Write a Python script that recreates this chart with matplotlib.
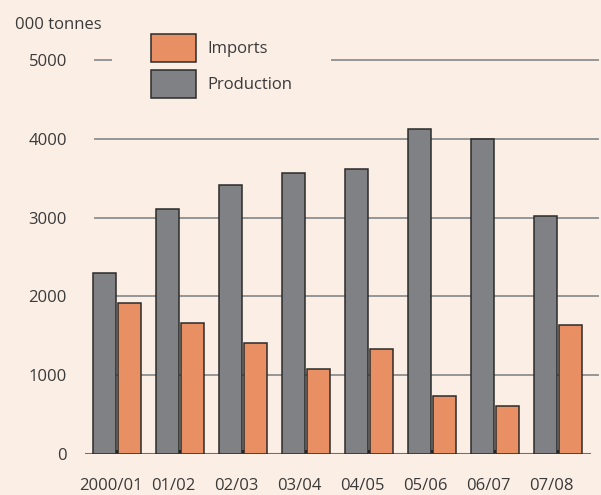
import matplotlib.pyplot as plt
import matplotlib.patches as mpatches
import numpy as np

plt.rcParams['font.family'] = ['Open Sans', 'DejaVu Sans']

seasons = ['2000/01', '01/02', '02/03', '03/04', '04/05', '05/06', '06/07', '07/08']
production = [2300, 3110, 3410, 3570, 3620, 4120, 4000, 3020]
imports = [1920, 1660, 1410, 1080, 1330, 740, 610, 1640]
yticks = [0, 1000, 2000, 3000, 4000, 5000]

bg = '#fbeee5'
c_imp = '#e89064'
c_prod = '#808184'
edge = '#2b2b2b'
txt = '#3a3a3a'
fs = 12

fig = plt.figure(figsize=(6.01, 4.95), dpi=100, facecolor=bg)
ax = fig.add_axes([85 / 601, 41 / 495, 513 / 601, 394 / 495], facecolor=bg)

x = np.arange(len(seasons))
w = 0.36
ax.bar(x - 0.2, production, w, color=c_prod, edgecolor=edge, linewidth=1.1, zorder=3)
ax.bar(x + 0.2, imports, w, color=c_imp, edgecolor=edge, linewidth=1.1, zorder=3)

ax.set_xlim(-0.508, 7.635)
ax.set_ylim(0, 5000)

# gridlines
for v in yticks[1:]:
    ax.axhline(v, xmin=(0.508 - 0.35) / 8.143, xmax=1, color='#959595', lw=1.4,
               zorder=1, clip_on=False)
# baseline
ax.axhline(0, xmin=0, xmax=(7.49 + 0.508) / 8.143, color='#6f6f6f', lw=2.2, zorder=2)

for s in ax.spines.values():
    s.set_visible(False)

ax.set_yticks(yticks)
ax.set_yticklabels([str(v) for v in yticks])
ax.tick_params(axis='y', length=0, pad=13, labelsize=fs, labelcolor=txt)

ax.set_xticks(x - 0.1)
ax.set_xticklabels(seasons)
ax.tick_params(axis='x', which='major', length=0, pad=17, labelsize=fs, labelcolor=txt)
ax.set_xticks(x, minor=True)
ax.tick_params(axis='x', which='minor', direction='in', length=3, width=3, color='#111111')

fig.text(15 / 601, 1 - 25 / 495, '000 tonnes', fontsize=fs, color=txt, va='center', ha='left')

handles = [mpatches.Patch(facecolor=c_imp, edgecolor=edge, linewidth=1.1, label='Imports'),
           mpatches.Patch(facecolor=c_prod, edgecolor=edge, linewidth=1.1, label='Production')]
leg = fig.legend(handles=handles, loc='upper left',
                 bbox_to_anchor=(112 / 601, 1 + 5 / 495),
                 frameon=True, facecolor=bg, edgecolor='none', framealpha=1,
                 fontsize=fs, handlelength=2.7, handleheight=2.21,
                 handletextpad=0.66, labelspacing=0.48, borderpad=2.34,
                 borderaxespad=0, fancybox=False)
for t in leg.get_texts():
    t.set_color(txt)
leg.set_zorder(5)

fig.savefig('out.png', dpi=100, facecolor=bg)
